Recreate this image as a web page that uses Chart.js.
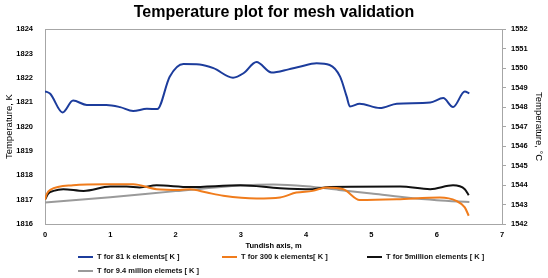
<!DOCTYPE html>
<html>
<head>
<meta charset="utf-8">
<script src="https://cdn.jsdelivr.net/npm/chart.js@4.4.1/dist/chart.umd.min.js"></script>
<style>
  body { margin: 0; background: #fff; }
  #wrap { position: relative; width: 548px; height: 278px; }
  #legend { position: absolute; left: 0; top: 0; width: 548px; height: 278px; pointer-events: none;
            font-family: 'Liberation Sans', Arial, sans-serif; font-size: 7.5px; font-weight: bold; color: #111; }
  .item { position: absolute; white-space: nowrap; display: flex; align-items: center; }
  .item span.line { display: inline-block; width: 15px; height: 2px; margin-right: 4px; }
</style>
</head>
<body>
<div id="wrap">
  <canvas id="grafico" width="548" height="278"></canvas>
  <div id="legend"></div>
</div>
<script>
// Dados (eixo x em m, temperatura em K)
const t81X = [0.0, 0.08, 0.27, 0.43, 0.64, 0.94, 1.15, 1.35, 1.56, 1.72, 1.91, 2.12, 2.37, 2.58, 2.88, 3.04, 3.24, 3.47, 3.73, 3.9, 4.16, 4.36, 4.52, 4.62, 4.67, 4.82, 5.13, 5.39, 5.9, 6.1, 6.25, 6.43, 6.5];
const t81Y = [1821.45, 1821.35, 1820.58, 1821.07, 1820.89, 1820.89, 1820.8, 1820.64, 1820.73, 1820.72, 1822.05, 1822.57, 1822.55, 1822.4, 1822.01, 1822.19, 1822.65, 1822.22, 1822.35, 1822.46, 1822.6, 1822.53, 1822.05, 1821.24, 1820.83, 1820.94, 1820.76, 1820.94, 1820.99, 1821.17, 1820.8, 1821.44, 1821.37];

const t300X = [0.0, 0.03, 0.08, 0.43, 0.94, 1.35, 1.71, 2.07, 2.22, 2.48, 2.73, 3.24, 3.6, 3.85, 4.1, 4.31, 4.57, 4.82, 5.39, 6.05, 6.3, 6.43, 6.49];
const t300Y = [1817.0, 1817.25, 1817.4, 1817.59, 1817.63, 1817.63, 1817.43, 1817.4, 1817.43, 1817.29, 1817.16, 1817.05, 1817.09, 1817.29, 1817.36, 1817.5, 1817.43, 1816.99, 1817.02, 1817.09, 1816.95, 1816.68, 1816.34];

const t5mX = [0.0, 0.05, 0.13, 0.28, 0.59, 1.0, 1.25, 1.45, 1.71, 2.22, 2.99, 3.6, 4.1, 4.36, 5.44, 5.9, 6.25, 6.43, 6.49];
const t5mY = [1817.0, 1817.25, 1817.36, 1817.43, 1817.36, 1817.54, 1817.54, 1817.5, 1817.59, 1817.52, 1817.59, 1817.47, 1817.43, 1817.52, 1817.54, 1817.43, 1817.59, 1817.43, 1817.18];

const t94mX = [0, 1, 2, 3, 3.5, 4, 4.5, 5, 5.5, 6, 6.5];
const t94mY = [1816.88, 1817.1, 1817.35, 1817.58, 1817.62, 1817.55, 1817.4, 1817.25, 1817.1, 1816.98, 1816.9];

const labels = ['T for 81 k elements[ K ]', 'T for 300 k elements[ K ]', 'T for 5million elements [ K ]', 'T for 9.4 million elemets [ K ]'];
const cores = ['#1c3c9c', '#f07c1c', '#111111', '#9a9a9a'];

function pontos(xs, ys) {
    return xs.map((x, i) => ({ x: x, y: ys[i] }));
}

const series = [pontos(t81X, t81Y), pontos(t300X, t300Y), pontos(t5mX, t5mY), pontos(t94mX, t94mY)];

Chart.defaults.font.family = "'Liberation Sans', Arial, sans-serif";
Chart.defaults.color = '#111';

const semVirgula = (v) => String(v);
const fonteTitulo = { family: "'Liberation Sans', Arial", size: 9.5 };

const grafico = new Chart(document.getElementById('grafico'), {
    type: 'line',
    data: {
        datasets: series.map((d, i) => ({
            label: labels[i],
            data: d,
            borderColor: cores[i],
            backgroundColor: cores[i],
            borderWidth: 2,
            pointRadius: 0,
            cubicInterpolationMode: 'monotone',
            yAxisID: 'y'
        }))
    },
    options: {
        responsive: false,
        animation: false,
        layout: { padding: { top: 2, bottom: 28, left: 0, right: 0 } },
        plugins: {
            legend: { display: false },
            tooltip: { enabled: false },
            title: {
                display: true,
                text: 'Temperature plot for mesh validation',
                font: { size: 16, weight: 'bold' },
                color: '#000',
                padding: { top: 1, bottom: 7 }
            }
        },
        scales: {
            x: {
                type: 'linear',
                min: 0,
                max: 7,
                ticks: { stepSize: 1, font: { size: 7.5, weight: 'bold' }, padding: 6, color: '#000', callback: semVirgula },
                grid: { display: false, drawTicks: false },
                border: { color: '#a6a6a6', width: 1 },
                title: { display: true, text: 'Tundish axis, m', font: { size: 7.5, weight: 'bold' }, padding: { top: 1, bottom: 0 }, color: '#000' },
                afterFit: (s) => { s.height = 26; }
            },
            y: {
                position: 'left',
                min: 1816,
                max: 1824,
                ticks: { stepSize: 1, font: { size: 7.5, weight: 'bold' }, padding: 12, color: '#000', callback: semVirgula },
                grid: {
                    drawTicks: false,
                    color: (ctx) => (ctx.tick && ctx.tick.value === 1824 ? '#a6a6a6' : 'rgba(0,0,0,0)')
                },
                border: { color: '#a6a6a6', width: 1 },
                title: { display: true, text: 'Temperature, K', font: fonteTitulo, padding: { top: 4, bottom: 2 }, color: '#000' },
                afterFit: (s) => { s.width = 45; }
            },
            y2: {
                position: 'right',
                min: 1542,
                max: 1552,
                ticks: { stepSize: 1, font: { size: 7.5, weight: 'bold' }, padding: 5, color: '#000', callback: semVirgula },
                grid: { drawOnChartArea: false, tickLength: 4, color: '#a6a6a6' },
                border: { color: '#a6a6a6', width: 1 },
                title: { display: true, text: 'Temperature, °C', font: fonteTitulo, padding: { top: 4, bottom: 2 }, color: '#000' },
                afterFit: (s) => { s.width = 46; }
            }
        }
    }
});

// Legenda em HTML, duas linhas como no original
const legend = document.getElementById('legend');
const posLegenda = [[78, 257], [222, 257], [367, 257], [78, 271]];
labels.forEach((txt, i) => {
    const div = document.createElement('div');
    div.className = 'item';
    div.style.left = posLegenda[i][0] + 'px';
    div.style.top = (posLegenda[i][1] - 5) + 'px';
    div.innerHTML = `<span class="line" style="background:${cores[i]}"></span>${txt}`;
    legend.appendChild(div);
});
</script>
</body>
</html>
